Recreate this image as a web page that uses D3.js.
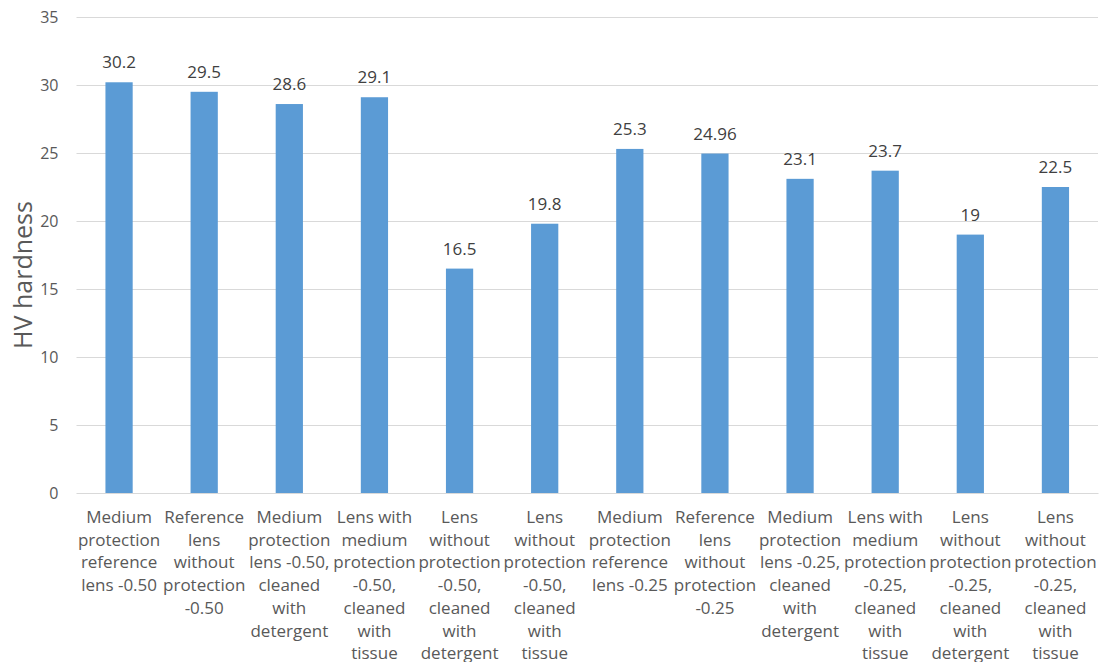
<!DOCTYPE html>
<html>
<head>
<meta charset="utf-8">
<script src="https://cdn.jsdelivr.net/npm/d3@7"></script>
<style>
  html, body { margin: 0; padding: 0; background: #fff; }
  svg { display: block; }
</style>
</head>
<body>
<svg id="chart" width="1102" height="662"></svg>
<script>
// Category labels, already broken into the lines shown under each bar
const categoryLines = [
  ["Medium", "protection", "reference", "lens -0.50"],
  ["Reference", "lens", "without", "protection", "-0.50"],
  ["Medium", "protection", "lens -0.50,", "cleaned", "with", "detergent"],
  ["Lens with", "medium", "protection", "-0.50,", "cleaned", "with", "tissue"],
  ["Lens", "without", "protection", "-0.50,", "cleaned", "with", "detergent"],
  ["Lens", "without", "protection", "-0.50,", "cleaned", "with", "tissue"],
  ["Medium", "protection", "reference", "lens -0.25"],
  ["Reference", "lens", "without", "protection", "-0.25"],
  ["Medium", "protection", "lens -0.25,", "cleaned", "with", "detergent"],
  ["Lens with", "medium", "protection", "-0.25,", "cleaned", "with", "tissue"],
  ["Lens", "without", "protection", "-0.25,", "cleaned", "with", "detergent"],
  ["Lens", "without", "protection", "-0.25,", "cleaned", "with", "tissue"]
];
const hardness = [30.2, 29.5, 28.6, 29.1, 16.5, 19.8, 25.3, 24.96, 23.1, 23.7, 19, 22.5];
const yTicks = [0, 5, 10, 15, 20, 25, 30, 35];
const yTitle = "HV hardness";

const svg = d3.select("#chart");
const font = "'Open Sans', 'Noto Sans', sans-serif";
const textColor = "#595959";

const plot = { left: 76.5, right: 1098, top: 17, bottom: 493 };
const idx = d3.range(hardness.length);

const x = d3.scaleBand()
  .domain(idx)
  .range([plot.left, plot.right])
  .paddingInner(0.68)
  .paddingOuter(0.34);

const y = d3.scaleLinear()
  .domain([0, 35])
  .range([plot.bottom, plot.top]);

// Horizontal gridlines with tick labels
const yAxis = d3.axisLeft(y)
  .tickValues(yTicks)
  .tickSize(-(plot.right - plot.left))
  .tickPadding(18);

const gy = svg.append("g")
  .attr("transform", `translate(${plot.left},0)`)
  .call(yAxis);
gy.select(".domain").remove();
gy.selectAll(".tick line").attr("stroke", "#d9d9d9").attr("stroke-width", 1);
gy.selectAll(".tick text")
  .attr("fill", textColor)
  .style("font-family", font)
  .style("font-size", "16px");

// Bars
svg.append("g").selectAll("rect")
  .data(idx)
  .join("rect")
  .attr("x", i => x(i))
  .attr("width", x.bandwidth())
  .attr("y", i => y(hardness[i]))
  .attr("height", i => y(0) - y(hardness[i]))
  .attr("fill", "#5b9bd5");

// Value labels above bars
svg.append("g").selectAll("text")
  .data(idx)
  .join("text")
  .attr("x", i => x(i) + x.bandwidth() / 2)
  .attr("y", i => y(hardness[i]) - 14)
  .attr("text-anchor", "middle")
  .attr("fill", "#404040")
  .style("font-family", font)
  .style("font-size", "17px")
  .text(i => hardness[i]);

// Category axis with multi-line labels
const xAxis = d3.axisBottom(x).tickSize(0).tickFormat(() => "");
const gx = svg.append("g")
  .attr("transform", `translate(0,${plot.bottom})`)
  .call(xAxis);
gx.select(".domain").attr("stroke", "#d9d9d9");

gx.selectAll(".tick").each(function(i) {
  const t = d3.select(this).select("text")
    .attr("fill", textColor)
    .attr("y", 0)
    .attr("dy", null)
    .style("font-family", font)
    .style("font-size", "17px")
    .text(null);
  categoryLines[i].forEach((line, k) => {
    t.append("tspan")
      .attr("x", 0)
      .attr("y", 30 + k * 22.7)
      .text(line);
  });
});

// Axis title
svg.append("text")
  .attr("transform", `translate(32,275) rotate(-90)`)
  .attr("text-anchor", "middle")
  .attr("fill", textColor)
  .style("font-family", font)
  .style("font-size", "25px")
  .text(yTitle);
</script>
</body>
</html>
